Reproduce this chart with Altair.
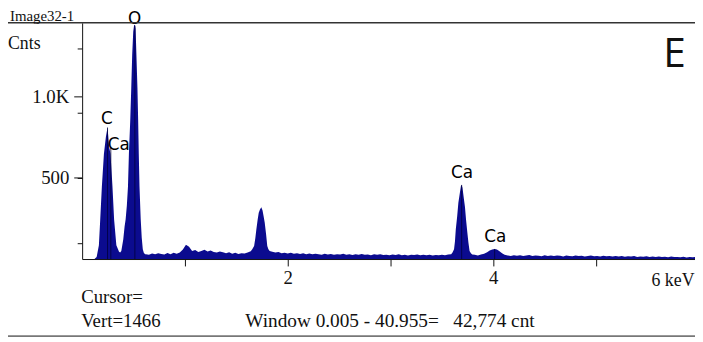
import altair as alt
import pandas as pd

# ---- spectrum data (keV, counts) ----
co_kev = [0.12, 0.141, 0.163, 0.176, 0.192, 0.212, 0.231, 0.247, 0.263, 0.276, 0.295, 0.311, 0.333, 0.359, 0.37,
          0.381, 0.40, 0.413, 0.423, 0.435, 0.446, 0.455, 0.468, 0.478, 0.487, 0.497, 0.505, 0.513, 0.520,
          0.528, 0.538, 0.545, 0.551, 0.558, 0.570, 0.580, 0.590, 0.60, 0.612]
co_cnt = [0, 12, 85, 244, 447, 650, 752, 811, 690, 650, 447, 244, 85, 45, 40,
          50, 120, 200, 244, 330, 447, 650, 854, 1057, 1260, 1402, 1440, 1445, 1420,
          1260, 1057, 854, 650, 447, 244, 130, 60, 38, 30]

bg1_start, bg1_step = 0.62, 0.03
bg1_cnt = [30, 27, 34, 29, 36, 31, 28, 37, 30, 38, 33, 40, 58, 88, 75, 50, 55, 43, 50, 57,
           46, 53, 44, 40, 47, 42, 36, 41, 33, 38, 31, 36, 34, 40, 48]

si_kev = [1.655, 1.673, 1.685, 1.695, 1.707, 1.718, 1.73, 1.743, 1.755, 1.765, 1.776, 1.79, 1.801, 1.812, 1.824]
si_cnt = [60, 81, 130, 183, 240, 286, 305, 319, 300, 265, 225, 150, 80, 60, 50]

bg2_start, bg2_step = 1.85, 0.03
bg2_cnt = [45, 40, 43, 36, 39, 34, 38, 33, 36, 31, 35, 30, 34, 29, 33, 30, 27, 32, 28, 31,
           26, 30, 28, 33, 27, 29, 25, 30, 27, 31, 26, 28, 24, 29, 26, 30, 25, 27, 23, 28,
           25, 29, 24, 26, 22, 27, 25, 28, 23, 26, 24, 27, 22, 25, 23, 27, 24, 28]

ca_kev = [3.59, 3.603, 3.618, 3.627, 3.635, 3.648, 3.66, 3.675, 3.685, 3.692, 3.70, 3.712, 3.724, 3.735,
          3.747, 3.758, 3.769, 3.782, 3.795, 3.82, 3.85, 3.88, 3.91, 3.94, 3.965, 3.99, 4.013, 4.035,
          4.06, 4.085, 4.11]
ca_cnt = [30, 40, 60, 110, 183, 260, 347, 410, 450, 457, 440, 380, 323, 240,
          165, 100, 50, 35, 28, 26, 22, 28, 32, 42, 52, 58, 62, 58,
          48, 35, 26]

bg3_start, bg3_step = 4.14, 0.03
bg3_cnt = [22, 19, 24, 20, 23, 18, 21, 25, 19, 22, 20, 17, 23, 19, 21, 18, 22, 20, 16, 21,
           19, 17, 22, 18, 20, 16, 19, 21, 17, 18, 15, 20, 17, 19, 15, 18, 16, 19, 14, 17,
           15, 18, 13, 16, 14, 17, 13, 15, 12, 16, 13, 14, 11, 15, 12, 13, 11, 14, 10, 13,
           11, 12]

# peak labels
lab_text = ["C", "O", "Ca", "Ca"]
lab_kev = [0.24, 0.51, 3.695, 4.02]
lab_cnt = [835, 1452, 500, 104]
cal_text, cal_kev, cal_cnt = ["Ca"], [0.25], [700]

# element marker lines
mark_kev = [0.247, 0.279, 0.513, 3.692, 4.013]
mark_cnt = [811, 690, 1440, 457, 62]

x_ticks = [1, 2, 3, 4, 5]
y_ticks = [100, 200, 300, 400, 500, 600, 700, 800, 900, 1000, 1100, 1200, 1300, 1400]
y_major = [500, 1000]
y_major_labels = ["500", "1.0K"]


def grid(start, step, counts):
    return [round(start + i * step, 3) for i in range(len(counts))]


kev = co_kev + grid(bg1_start, bg1_step, bg1_cnt) + si_kev + grid(bg2_start, bg2_step, bg2_cnt) \
    + ca_kev + grid(bg3_start, bg3_step, bg3_cnt)
cnt = co_cnt + bg1_cnt + si_cnt + bg2_cnt + ca_cnt + bg3_cnt
spec = pd.DataFrame({"keV": kev, "cnt": cnt})

BLUE = "#0b0b8f"
SERIF = "Liberation Serif"
SANS = "DejaVu Sans"
INK = "#111"

xscale = alt.Scale(domain=[0, 5.962], nice=False, zero=False)
yscale = alt.Scale(domain=[0, 1457], nice=False)

xaxis = alt.Axis(values=x_ticks, labelExpr="datum.value==2 ? '2' : (datum.value==4 ? '4' : '')",
                 tickSize=7, labelPadding=3, labelFont=SERIF, labelFontSize=19, labelColor=INK,
                 domainColor=INK, tickColor=INK, grid=False, title=None, labelFlush=False,
                 labelOverlap=False)
yaxis = alt.Axis(values=y_ticks, labels=False, tickSize=5,
                 domainColor=INK, tickColor=INK, grid=False, title=None)

area = alt.Chart(spec).mark_area(color=BLUE, interpolate="linear", clip=True).encode(
    x=alt.X("keV:Q", scale=xscale, axis=xaxis),
    y=alt.Y("cnt:Q", scale=yscale, axis=yaxis),
)

ymaj = pd.DataFrame({"v": y_major, "t": y_major_labels})
major_ticks = alt.Chart(ymaj).mark_rule(color=INK, strokeWidth=1).encode(
    y=alt.Y("v:Q", scale=yscale), x=alt.value(-8), x2=alt.value(0))
major_labels = alt.Chart(ymaj).mark_text(font=SERIF, fontSize=19, color=INK, align="right",
                                         baseline="middle").encode(
    y=alt.Y("v:Q", scale=yscale), x=alt.value(-13), text="t:N")

markers = alt.Chart(pd.DataFrame({"keV": mark_kev, "cnt": mark_cnt})).mark_rule(
    color="#00003a", strokeWidth=1, opacity=0.8).encode(
    x="keV:Q", y="cnt:Q", y2=alt.datum(0))

labels = alt.Chart(pd.DataFrame({"t": lab_text, "keV": lab_kev, "cnt": lab_cnt})).mark_text(
    font=SANS, fontSize=17, color="#000", align="center", baseline="alphabetic").encode(
    x="keV:Q", y="cnt:Q", text="t:N")
label_cal = alt.Chart(pd.DataFrame({"t": cal_text, "keV": cal_kev, "cnt": cal_cnt})).mark_text(
    font=SANS, fontSize=17, color="#000", align="left", baseline="middle").encode(
    x="keV:Q", y="cnt:Q", text="t:N")

one = pd.DataFrame({"a": [0]})


def txt(s, x, y, size=19, font=SERIF, align="left"):
    return alt.Chart(one).mark_text(font=font, fontSize=size, color=INK, align=align,
                                    baseline="alphabetic").encode(
        x=alt.value(x), y=alt.value(y), text=alt.value(s))


top_line = alt.Chart(one).mark_rule(color="#333", strokeWidth=1.5).encode(
    x=alt.value(-76), x2=alt.value(620), y=alt.value(0))
bottom_line = alt.Chart(one).mark_rule(color="#777", strokeWidth=2).encode(
    x=alt.value(-76), x2=alt.value(620), y=alt.value(317))

chart = alt.layer(
    area, markers, major_ticks, major_labels, labels, label_cal,
    top_line, bottom_line,
    txt("Image32-1", -73, -2, 15),
    txt("Cnts", -75, 27, 18),
    txt("6 keV", 576, 266, 18),
    txt("Cursor=", -1, 283, 19),
    txt("Vert=1466", -1, 308, 19),
    txt("Window 0.005 - 40.955=\u00a0\u00a0 42,774 cnt", 165, 308, 19.5),
    txt("E", 588, 45, 41, font="Open Sans"),
).properties(
    width=620, height=239,
    autosize=alt.AutoSizeParams(type="none"),
    padding={"left": 75, "top": 13, "right": 0, "bottom": 82},
).configure_view(strokeWidth=0)

chart.save("out.html", embed_options={"renderer": "svg", "actions": False})
